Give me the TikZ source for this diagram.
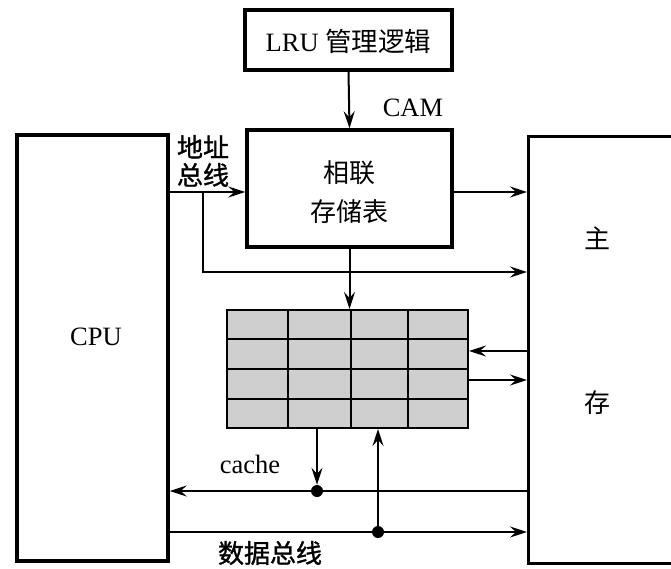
\documentclass[tikz,border=0pt]{standalone}
\usepackage{fontspec}
\setmainfont{Liberation Serif}
\newfontfamily\cjk{Noto Sans CJK SC}
\newfontfamily\cjkm[FakeBold=1.2]{Noto Sans CJK SC}
\usetikzlibrary{arrows.meta}
\tikzset{
  box/.style={draw, line width=3.4pt, inner sep=0pt, fill=white},
  arr/.style={line width=2pt, -{Stealth[length=17pt,width=11pt,inset=6pt]}},
  ln/.style={line width=2pt},
  dotn/.style={circle, fill=black, inner sep=0pt, minimum size=12pt},
  lbl/.style={inner sep=0pt, font=\fontsize{26.5}{30}\selectfont},
  cjkl/.style={inner sep=0pt, font=\fontsize{26}{30}\selectfont\cjk},
}
\begin{document}
\begin{tikzpicture}[x=1pt,y=-1pt]
\clip (0,0) rectangle (671,569);
\fill[white] (0,0) rectangle (671,569);
% boxes
\node[box, minimum width=151pt, minimum height=426pt] (cpu) at (92.5,348) {};
\node[lbl] at (96,337) {CPU};
\node[box, anchor=north west, minimum width=200pt, minimum height=427pt] (mem) at (527,135) {};
\node[cjkl] (m1) at (597,238) {主};
\node[cjkl] (m2) at (597,403) {存};
\node[box, minimum width=207pt, minimum height=60pt] (lru) at (348.5,40) {};
\node[lbl] at (348.5,41) {LRU {\cjk 管理逻辑}};
\node[box, minimum width=205pt, minimum height=117pt] (cam) at (349.5,188.5) {};
\node[cjkl, align=center, font=\fontsize{26}{39}\selectfont\cjk] at (349.5,192) {相联\\存储表};
\node[lbl] (camlbl) at (413,108) {CAM};
% cache grid
\node[draw, line width=2pt, fill=black!19, inner sep=0pt, anchor=north west,
      minimum width=241pt, minimum height=118pt] (cache) at (226,309) {};
\foreach \yy in {338.5,368.5,398.5}
  \draw[ln] (226,\yy) -- (467,\yy);
\foreach \xx in {288,351,408}
  \draw[ln] (\xx,309) -- (\xx,427);
% coordinates
\coordinate (ab) at (203,192);
\coordinate (ab2) at (203,272);
\coordinate (c1) at (0,351);
\coordinate (c2) at (0,380);
\node[dotn] (d1) at (317,491) {};
\node[dotn] (d2) at (378,532) {};
% connectors
\draw[arr] (lru.south) -- (cam.north);
\draw[arr] (ab -| cpu.east) -- (ab -| cam.west);
\draw[arr] (ab) -- (ab2) -- (ab2 -| mem.west);
\draw[arr] (ab -| cam.east) -- (ab -| mem.west);
\draw[arr] (cam.south) -- (cam.south |- cache.north);
\draw[arr] (c1 -| mem.west) -- (c1 -| cache.east);
\draw[arr] (c2 -| cache.east) -- (c2 -| mem.west);
\draw[arr] (d1 |- cache.south) -- (d1.north);
\draw[arr] (d1 -| mem.west) -- (d1 -| cpu.east);
\draw[arr] (d2 -| cpu.east) -- (d2 -| mem.west);
\draw[arr] (d2.center) -- (d2 |- cache.south);
% labels
\node[inner sep=0pt, align=center, font=\fontsize{26}{28}\selectfont\cjkm] at (203,161) {地址\\总线};
\node[lbl] at (250,464) {cache};
\node[inner sep=0pt, font=\fontsize{26}{28}\selectfont\cjkm] at (270,553) {数据总线};
\end{tikzpicture}
\end{document}
